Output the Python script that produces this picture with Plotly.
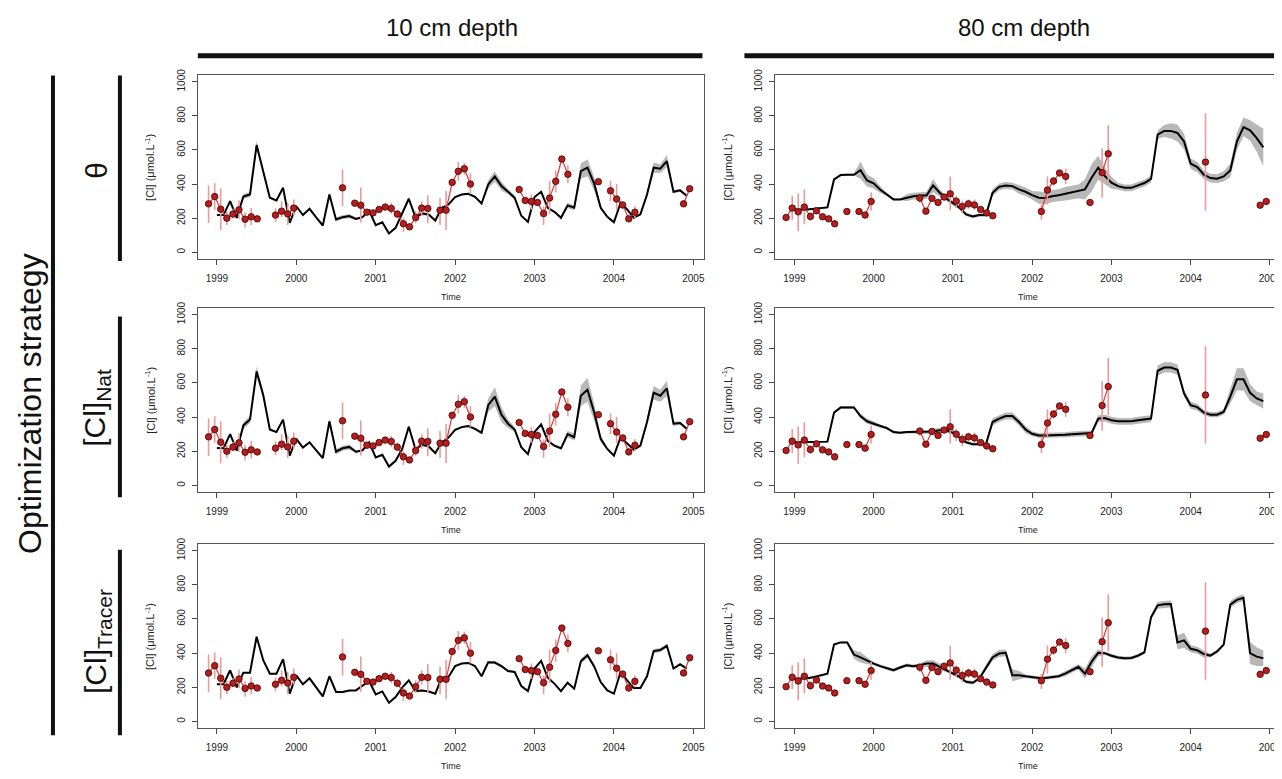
import plotly.graph_objects as go

# ---------------- data ----------------
# model output: monthly values Jan 1999 .. Dec 2004
model_months = [(1999 + i // 12, i % 12 + 1) for i in range(72)]
model_t = [y + (m - 1) / 12 for (y, m) in model_months]

m10_theta = [218,218,300,202,327,339,629,467,320,304,378,173,
             270,218,255,205,157,339,192,206,212,196,206,245,
             159,176,110,143,225,314,206,227,222,186,261,280,
             324,339,343,325,286,398,445,388,355,320,214,178,
             324,355,261,237,202,275,261,476,496,404,261,208,
             176,290,251,202,222,339,496,490,535,355,363,331]
m10_nat = [219,218,300,203,351,385,667,529,327,312,385,174,
           272,221,252,205,160,375,197,217,225,197,205,252,
           164,179,110,144,213,343,213,237,229,189,252,280,
           325,341,347,331,308,469,519,414,361,327,223,183,
           312,357,260,233,217,300,282,525,560,430,272,213,
           174,282,243,209,233,371,542,525,568,361,365,331]
m10_tracer = [218,218,300,200,286,286,496,359,280,280,365,163,
              270,218,253,200,147,265,173,173,182,182,208,237,
              159,176,110,143,198,241,178,182,176,163,257,261,
              324,339,343,325,265,347,345,324,296,290,208,178,
              310,355,257,222,178,227,192,353,388,324,231,182,
              163,290,241,196,196,265,412,418,443,310,335,310]
m80_theta = [251,249,251,255,259,263,427,453,455,455,482,421,
             404,367,339,310,310,320,329,333,333,392,349,316,
             286,261,222,210,218,218,349,384,392,388,369,355,
             335,320,318,329,335,343,349,357,369,437,496,447,
             408,388,378,378,392,406,430,690,712,712,700,650,
             520,500,455,435,432,445,480,650,735,715,670,615]
m80_nat = [252,252,252,252,254,256,426,456,456,456,406,375,
           361,347,335,312,308,312,312,312,312,316,323,323,
           308,282,252,241,241,241,371,391,406,406,371,327,
           302,292,292,292,294,296,300,302,302,306,391,394,
           381,375,375,375,381,385,391,671,690,690,677,538,
           469,458,426,414,414,430,519,621,621,542,509,493]
m80_tracer = [251,251,253,261,271,280,451,463,463,392,375,355,
              339,324,312,300,316,329,324,329,339,339,320,300,
              280,261,233,227,251,314,375,398,402,271,271,265,
              260,255,255,258,265,280,298,320,280,350,402,400,
              385,375,370,372,385,405,610,680,686,688,463,475,
              426,417,395,386,410,450,684,712,724,400,380,370]

# half-width of the grey uncertainty band
b10_theta = [4,4,5,5,15,15,25,10,6,5,8,5,
             5,5,5,5,5,8,12,12,12,8,6,5,
             5,5,5,5,10,10,8,10,8,6,5,5,
             5,5,6,6,8,25,30,25,15,15,6,5,
             5,6,6,6,8,15,15,45,50,40,10,6,
             5,5,5,5,6,15,30,25,35,10,8,6]
b10_nat = [4,4,5,5,20,20,30,20,8,6,10,5,
           5,5,5,5,5,15,15,15,15,8,6,5,
           5,5,5,5,10,10,8,10,8,6,5,5,
           6,6,6,8,10,40,55,45,25,15,8,5,
           5,6,6,8,10,20,20,60,70,50,20,8,
           5,5,5,5,8,20,40,35,45,15,10,8]
b10_tracer = [3,3,3,3,4,4,6,4,3,3,4,3,
              3,3,3,3,3,4,4,4,4,3,3,3,
              3,3,3,3,4,4,4,4,4,3,3,3,
              3,3,3,4,4,6,8,8,8,6,4,3,
              3,3,3,3,4,6,6,15,15,12,5,4,
              3,3,3,3,4,6,12,12,12,6,5,4]
b80_theta = [5,5,5,5,5,5,5,5,5,5,50,35,
             30,20,10,5,5,20,20,20,20,40,20,15,
             10,10,10,10,10,10,20,20,20,20,25,25,
             25,35,35,35,35,40,40,40,60,80,70,50,
             35,20,20,20,20,20,20,25,35,45,50,45,
             30,30,25,25,25,30,40,50,55,60,80,110]
b80_nat = [5,5,5,5,5,5,8,8,8,8,15,15,
           15,10,10,8,8,8,8,8,10,15,15,15,
           10,10,8,8,8,15,20,20,20,20,20,20,
           15,15,15,15,15,15,15,15,15,15,20,20,
           20,20,20,20,20,20,20,30,30,30,30,20,
           20,20,15,15,15,15,40,65,65,50,40,45]
b80_tracer = [5,5,5,5,5,5,5,5,5,25,30,20,
              10,10,10,10,10,10,10,10,20,20,20,10,
              10,10,10,10,10,20,20,20,20,35,25,10,
              10,10,10,10,10,15,15,15,30,30,20,10,
              10,10,10,10,10,10,15,20,20,20,40,45,
              20,20,20,10,10,10,20,20,20,65,55,45]

# observations (decimal year), value, error-bar low / high
obs10_t = [1998.895,1998.972,1999.048,1999.125,1999.202,1999.278,1999.355,1999.432,1999.508,
           1999.738,1999.815,1999.892,1999.968,
           2000.582,
           2000.736,2000.812,2000.889,2000.966,2001.042,2001.119,2001.196,2001.272,2001.349,
           2001.426,2001.503,2001.579,2001.656,
           2001.810,2001.886,2001.963,2002.040,2002.116,2002.193,
           2002.807,2002.883,2002.960,2003.037,2003.114,2003.190,2003.267,2003.344,2003.420,
           2003.804,
           2003.957,2004.034,2004.110,2004.187,2004.264,
           2004.877,2004.954]
obs10_v = [284,327,253,200,224,249,194,208,196,
           218,241,225,259,
           378,
           288,276,235,231,251,265,257,224,167,149,204,259,257,
           247,247,410,475,490,400,
           368,304,298,292,227,318,416,547,457,
           414,
           361,312,278,196,235,
           284,373]
obs10_lo = [172,250,130,160,200,195,145,160,190,
            178,205,160,215,
            270,
            283,175,228,224,240,255,225,200,120,140,170,215,170,
            160,130,400,420,455,340,
            360,296,250,284,160,225,350,540,405,
            406,
            300,250,255,185,200,
            276,365]
obs10_hi = [392,405,375,240,255,305,235,260,205,
            258,300,290,310,
            485,
            293,380,242,238,262,275,290,250,200,158,240,300,335,
            320,360,420,530,525,465,
            376,312,340,300,270,420,480,555,510,
            422,
            420,400,295,207,270,
            292,381]

obs80_t = [1998.895,1998.972,1999.048,1999.125,1999.202,1999.278,1999.355,1999.432,1999.508,
           1999.662,
           1999.815,1999.892,1999.968,
           2000.582,2000.659,2000.736,2000.812,2000.889,2000.966,2001.042,2001.119,2001.196,
           2001.272,2001.349,2001.426,2001.503,
           2002.116,2002.193,2002.270,2002.346,2002.423,
           2002.730,
           2002.883,2002.960,
           2004.187,
           2004.877,2004.954]
obs80_v = [204,259,237,265,210,243,208,196,167,
           239,
           239,218,298,
           318,241,316,292,324,343,300,269,284,278,251,231,214,
           239,365,418,465,445,
           292,
           467,578,
           529,
           276,298]
obs80_lo = [198,190,125,165,185,230,202,190,161,
            233,
            233,212,245,
            290,235,305,285,316,245,260,230,255,250,240,210,208,
            190,280,390,458,400,
            286,
            320,410,
            245,
            270,292]
obs80_hi = [210,330,345,370,235,256,214,202,173,
            245,
            245,224,350,
            330,247,327,300,332,445,330,300,310,310,262,250,220,
            280,445,440,472,490,
            298,
            610,745,
            815,
            282,304]

row_labels = ["θ", "[Cl]<sub>Nat</sub>", "[Cl]<sub>Tracer</sub>"]
col_labels = ["10 cm depth", "80 cm depth"]
x_ticks = [1999, 2000, 2001, 2002, 2003, 2004, 2005]
y_ticks = [0, 200, 400, 600, 800, 1000]
y_title = "[Cl] (μmol.L<sup>-1</sup>)"
x_title = "Time"

# ---------------- layout geometry ----------------
# the page places the figure slightly in from the top-left corner
OFF_X, OFF_Y = 8, 13
W, H = 1282 - OFF_X, 779 - OFF_Y
def fx(px): return (px - OFF_X) / W
def fy(py): return 1 - (py - OFF_Y) / H

col_px = [(198, 705), (776, 1283)]
row_px = [(74.5, 260), (309, 495), (547, 733)]

panels = [
    (0, 0, m10_theta, b10_theta, "obs10"),
    (0, 1, m80_theta, b80_theta, "obs80"),
    (1, 0, m10_nat, b10_nat, "obs10"),
    (1, 1, m80_nat, b80_nat, "obs80"),
    (2, 0, m10_tracer, b10_tracer, "obs10"),
    (2, 1, m80_tracer, b80_tracer, "obs80"),
]
obs_sets = {
    "obs10": (obs10_t, obs10_v, obs10_lo, obs10_hi),
    "obs80": (obs80_t, obs80_v, obs80_lo, obs80_hi),
}

BAND = "#b8b8b8"
OBS_LINE = "#d83a3a"
ERR = "#ec9a9a"
MARK = "#b81c1c"
FONT = "Liberation Sans, Arial, sans-serif"

fig = go.Figure()
layout = dict(width=W, height=H, margin=dict(l=0, r=0, t=0, b=0),
              paper_bgcolor="white", plot_bgcolor="white", showlegend=False,
              font=dict(family=FONT, color="#222"))
annotations, shapes = [], []

for i, (r, c, model, band, oname) in enumerate(panels):
    n = i + 1
    xa = "x" if n == 1 else f"x{n}"
    ya = "y" if n == 1 else f"y{n}"
    xk = "xaxis" if n == 1 else f"xaxis{n}"
    yk = "yaxis" if n == 1 else f"yaxis{n}"
    x0, x1 = col_px[c]
    y0, y1 = row_px[r]
    layout[xk] = dict(domain=[max(0, fx(x0)), min(1, fx(x1))], anchor=ya,
                      range=[1998.76, 2005.14],
                      tickvals=x_ticks, ticks="outside", ticklen=5, tickcolor="#444",
                      ticklabelstandoff=5,
                      showline=True, mirror=True, linecolor="#555", linewidth=1,
                      showgrid=False, zeroline=False,
                      tickfont=dict(size=10, color="#222"))
    layout[yk] = dict(domain=[fy(y1), fy(y0)], anchor=xa, range=[-40, 1040],
                      tickvals=y_ticks, ticks="outside", ticklen=5, tickcolor="#444",
                      ticklabelstandoff=3,
                      tickangle=-90, showline=True, mirror=True, linecolor="#555",
                      linewidth=1, showgrid=False, zeroline=False,
                      tickfont=dict(size=10, color="#222"))
    # uncertainty band
    upper = [m + b for m, b in zip(model, band)]
    lower = [m - b for m, b in zip(model, band)]
    fig.add_trace(go.Scatter(x=model_t + model_t[::-1], y=upper + lower[::-1],
                             fill="toself", fillcolor=BAND, line=dict(width=0),
                             mode="lines", hoverinfo="skip", xaxis=xa, yaxis=ya))
    fig.add_trace(go.Scatter(x=model_t, y=model, mode="lines",
                             line=dict(color="black", width=2), xaxis=xa, yaxis=ya))
    t, v, lo, hi = obs_sets[oname]
    # error bars
    fig.add_trace(go.Scatter(x=t, y=v, mode="markers", marker=dict(size=1, opacity=0),
                             error_y=dict(type="data", symmetric=False,
                                          array=[h - a for h, a in zip(hi, v)],
                                          arrayminus=[a - l for a, l in zip(v, lo)],
                                          color=ERR, thickness=1.6, width=0),
                             xaxis=xa, yaxis=ya))
    # connecting line with gaps where samples are missing
    lx, ly = [], []
    for k in range(len(t)):
        if k > 0 and t[k] - t[k - 1] > 0.11:
            lx.append(None); ly.append(None)
        lx.append(t[k]); ly.append(v[k])
    fig.add_trace(go.Scatter(x=lx, y=ly, mode="lines", connectgaps=False,
                             line=dict(color=OBS_LINE, width=1.2), xaxis=xa, yaxis=ya))
    fig.add_trace(go.Scatter(x=t, y=v, mode="markers",
                             marker=dict(size=6.5, color=MARK, line=dict(color="#3a0808", width=0.8)),
                             xaxis=xa, yaxis=ya))
    # axis titles
    ytitle_x = 150 if c == 0 else 728
    annotations.append(dict(x=fx(ytitle_x), y=fy((y0 + y1) / 2), xref="paper", yref="paper",
                            text=y_title, textangle=-90, showarrow=False,
                            font=dict(size=11, color="#222"), xanchor="center", yanchor="middle"))
    annotations.append(dict(x=fx((x0 + x1) / 2 if c == 0 else 1029), y=fy(y1 + 38),
                            xref="paper", yref="paper",
                            text=x_title, showarrow=False, font=dict(size=9, color="#222"),
                            xanchor="center", yanchor="middle"))

# column headers and bars
for c, lab in enumerate(col_labels):
    cx = 452 if c == 0 else 1025
    annotations.append(dict(x=fx(cx), y=fy(27), xref="paper", yref="paper", text=lab,
                            showarrow=False, font=dict(size=24, color="#111"),
                            xanchor="center", yanchor="middle"))
shapes.append(dict(type="line", xref="paper", yref="paper", x0=fx(198), x1=fx(703),
                   y0=fy(55), y1=fy(55), line=dict(color="#111", width=5)))
shapes.append(dict(type="line", xref="paper", yref="paper", x0=fx(745), x1=1,
                   y0=fy(55), y1=fy(55), line=dict(color="#111", width=5)))

# left side labels
annotations.append(dict(x=fx(30), y=fy(405), xref="paper", yref="paper",
                        text="Optimization strategy", textangle=-90, showarrow=False,
                        font=dict(size=32, color="#111"), xanchor="center", yanchor="middle"))
shapes.append(dict(type="line", xref="paper", yref="paper", x0=fx(53), x1=fx(53),
                   y0=fy(75), y1=fy(740), line=dict(color="#111", width=4)))
row_lab_y = [170, 410, 645]
row_bar = [(75, 262), (318, 500), (553, 740)]
for r, lab in enumerate(row_labels):
    annotations.append(dict(x=fx(97), y=fy(row_lab_y[r]), xref="paper", yref="paper",
                            text=lab, textangle=-90, showarrow=False,
                            font=dict(size=30, color="#111"), xanchor="center", yanchor="middle"))
    b0, b1 = row_bar[r]
    shapes.append(dict(type="line", xref="paper", yref="paper", x0=fx(120), x1=fx(120),
                       y0=fy(b0), y1=fy(b1), line=dict(color="#111", width=4)))

layout["annotations"] = annotations
layout["shapes"] = shapes
fig.update_layout(**layout)
fig.write_html("out.html")
